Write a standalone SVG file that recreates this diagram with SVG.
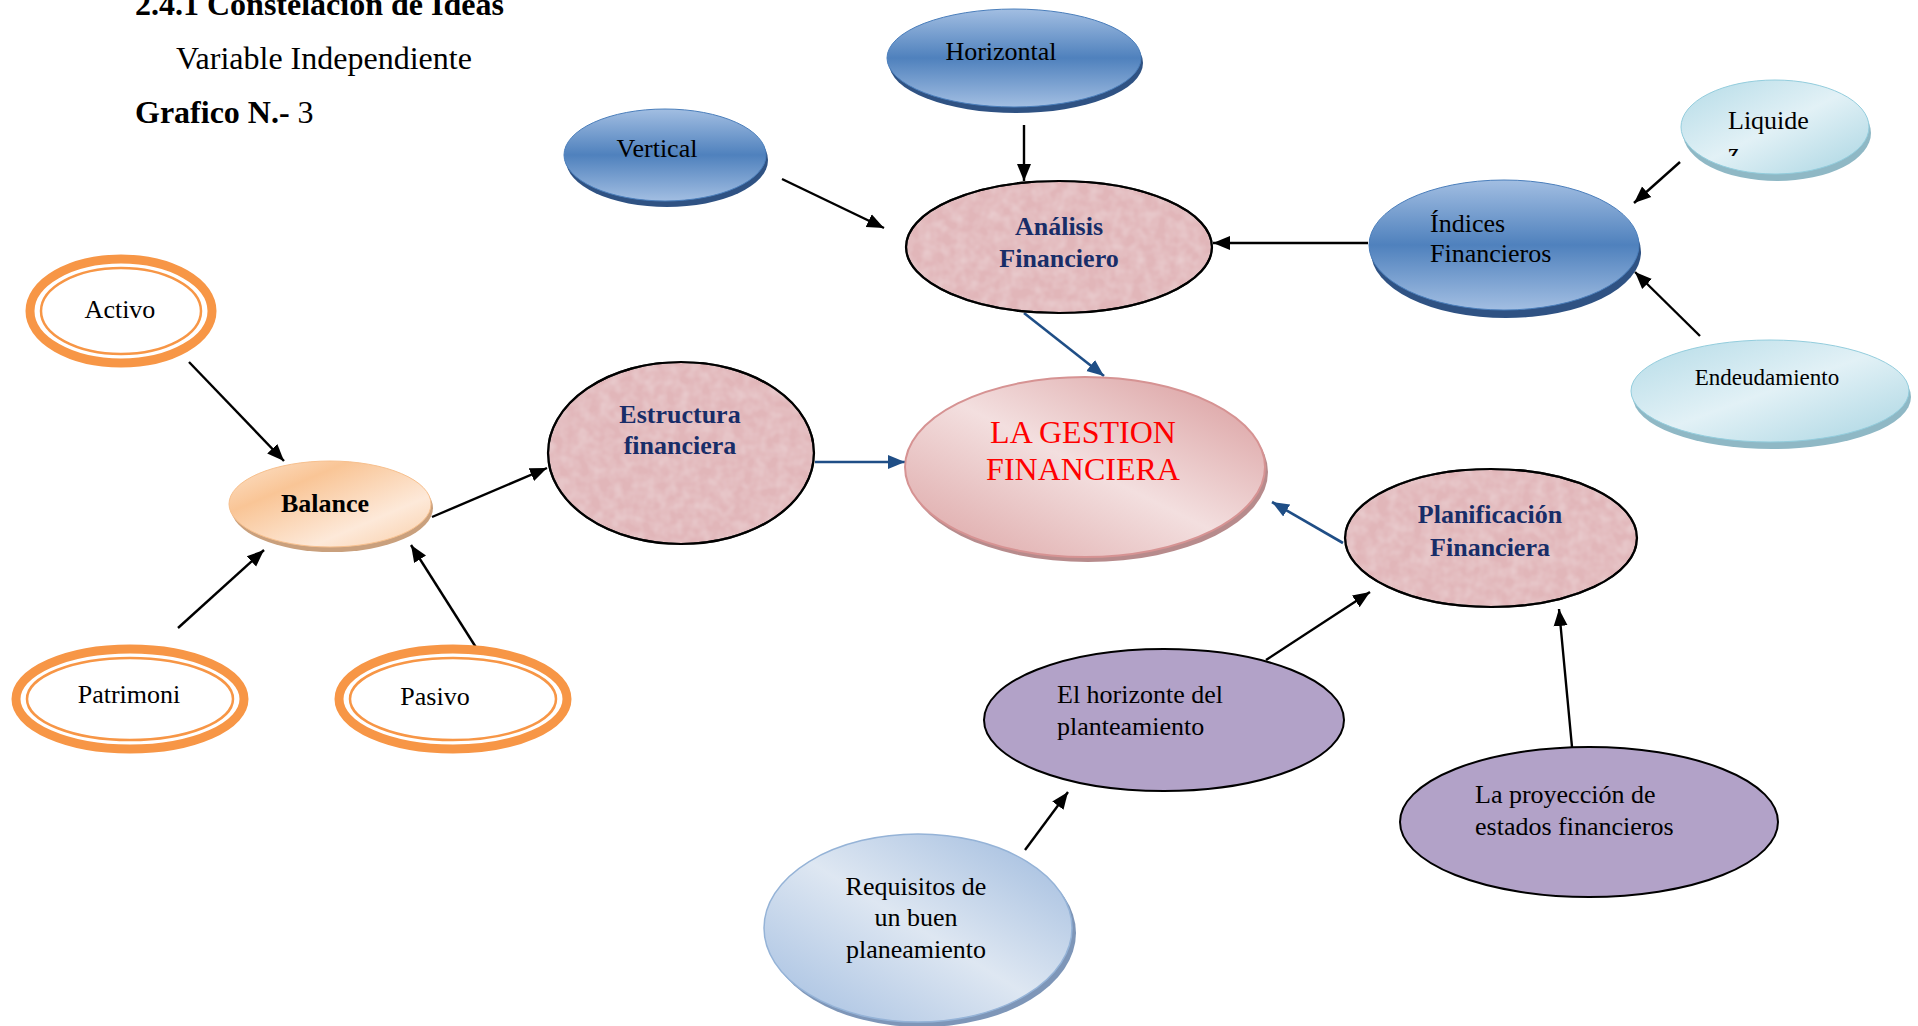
<svg xmlns="http://www.w3.org/2000/svg" width="1918" height="1026" viewBox="0 0 1918 1026">
<style>
text{font-family:"Liberation Serif","Times New Roman",serif;fill:#000;}
.t{font-size:26px;}
.b{font-size:26px;font-weight:bold;fill:#182d68;}
.h{font-size:32px;}
.c{text-anchor:middle;}
.ring{fill:#fff;stroke:#f79646;stroke-width:9;}
.ring2{fill:none;stroke:#f79646;stroke-width:2.5;}
.pink{fill:#e1b6b9;stroke:#000;stroke-width:2.2;}
.purple{fill:#b2a2c8;stroke:#000;stroke-width:2;}
.blk{stroke:#000;stroke-width:2.4;fill:none;marker-end:url(#ah);}
.blu{stroke:#1f4e86;stroke-width:2.6;fill:none;marker-end:url(#ahb);}
</style>
<defs>
<marker id="ah" markerUnits="userSpaceOnUse" markerWidth="18" markerHeight="16" refX="17" refY="8" orient="auto"><path d="M0,1 L17,8 L0,15 z" fill="#000"/></marker>
<marker id="ahb" markerUnits="userSpaceOnUse" markerWidth="18" markerHeight="16" refX="17" refY="8" orient="auto"><path d="M0,1 L17,8 L0,15 z" fill="#1f4e86"/></marker>
<linearGradient id="gBlue" x1="0" y1="0" x2="0" y2="1">
<stop offset="0" stop-color="#a2bee2"/><stop offset="0.5" stop-color="#4f81bd"/><stop offset="1" stop-color="#a2bee2"/>
</linearGradient>
<linearGradient id="gCyan" x1="0" y1="0" x2="1" y2="1">
<stop offset="0" stop-color="#b4dbe7"/><stop offset="0.5" stop-color="#e2f1f6"/><stop offset="1" stop-color="#a9d5e2"/>
</linearGradient>
<linearGradient id="gPeach" x1="0" y1="0" x2="1" y2="1">
<stop offset="0" stop-color="#fde3cc"/><stop offset="0.3" stop-color="#f9c596"/><stop offset="0.7" stop-color="#fde9d9"/><stop offset="1" stop-color="#f9cda6"/>
</linearGradient>
<linearGradient id="gGest" x1="1" y1="0" x2="0" y2="1">
<stop offset="0" stop-color="#d8999a"/><stop offset="0.5" stop-color="#f3dfdf"/><stop offset="1" stop-color="#dca3a3"/>
</linearGradient>
<linearGradient id="gReq" x1="1" y1="0" x2="0" y2="1">
<stop offset="0" stop-color="#9db9dd"/><stop offset="0.5" stop-color="#dee7f2"/><stop offset="1" stop-color="#a2bde0"/>
</linearGradient>
<filter id="tex" x="0" y="0" width="1" height="1">
<feTurbulence type="fractalNoise" baseFrequency="0.09" numOctaves="2" seed="3" result="n"/>
<feColorMatrix in="n" type="matrix" values="0 0 0 0 1  0 0 0 0 1  0 0 0 0 1  0.4 0 0 0 -0.12" result="w"/>
<feComposite in="w" in2="SourceGraphic" operator="in" result="wc"/>
<feMerge><feMergeNode in="SourceGraphic"/><feMergeNode in="wc"/></feMerge>
</filter>
<clipPath id="clipLiq"><rect x="1690" y="90" width="160" height="66"/></clipPath>
</defs>

<g id="header">
<text class="h" x="135" y="15" font-weight="bold">2.4.1 Constelación de Ideas</text>
<text class="h" x="176" y="69">Variable Independiente</text>
<text class="h" x="135" y="123"><tspan font-weight="bold">Grafico N.-</tspan> 3</text>
</g>

<g id="connectors">
<line class="blk" x1="1024" y1="125" x2="1024" y2="181"/>
<line class="blk" x1="782" y1="179" x2="884" y2="228"/>
<line class="blk" x1="1368" y1="243" x2="1213" y2="243"/>
<line class="blk" x1="1680" y1="162" x2="1634" y2="203"/>
<line class="blk" x1="1700" y1="336" x2="1635" y2="272"/>
<line class="blu" x1="1024" y1="313" x2="1104" y2="376"/>
<line class="blk" x1="189" y1="362" x2="284" y2="461"/>
<line class="blk" x1="178" y1="628" x2="264" y2="550"/>
<line class="blk" x1="477" y1="649" x2="411" y2="545"/>
<line class="blk" x1="432" y1="517" x2="547" y2="468"/>
<line class="blu" x1="815" y1="462" x2="905" y2="462"/>
<line class="blu" x1="1343" y1="543" x2="1272" y2="502"/>
<line class="blk" x1="1266" y1="660" x2="1370" y2="592"/>
<line class="blk" x1="1572" y1="747" x2="1559" y2="609"/>
<line class="blk" x1="1025" y1="850" x2="1068" y2="792"/>
</g>

<g id="horizontal">
<ellipse cx="1016" cy="63" rx="127" ry="50" fill="#2f5283"/>
<ellipse cx="1014" cy="58" rx="127" ry="49" fill="url(#gBlue)" stroke="#4a7ebb" stroke-width="1"/>
<text class="t c" x="1001" y="60">Horizontal</text>
</g>
<g id="vertical">
<ellipse cx="667" cy="160" rx="101" ry="47" fill="#2f5283"/>
<ellipse cx="665" cy="155" rx="101" ry="46" fill="url(#gBlue)" stroke="#4a7ebb" stroke-width="1"/>
<text class="t c" x="657" y="157">Vertical</text>
</g>
<g id="analisis">
<ellipse class="pink" cx="1059" cy="247" rx="153" ry="66" filter="url(#tex)"/>
<ellipse cx="1059" cy="247" rx="153" ry="66" fill="none" stroke="#000" stroke-width="2.2"/>
<text class="b c" x="1059" y="235">Análisis<tspan x="1059" dy="32">Financiero</tspan></text>
</g>
<g id="indices">
<ellipse cx="1506" cy="252" rx="135" ry="66" fill="#2f5283"/>
<ellipse cx="1504" cy="245" rx="135" ry="65" fill="url(#gBlue)" stroke="#4a7ebb" stroke-width="1"/>
<text class="t" x="1430" y="232">Índices<tspan x="1430" dy="30">Financieros</tspan></text>
</g>
<g id="liquidez">
<ellipse cx="1777" cy="133" rx="94" ry="48" fill="#8fb8c5"/>
<ellipse cx="1775" cy="127" rx="94" ry="47" fill="url(#gCyan)" stroke="#93cddd" stroke-width="1"/>
<text class="t" x="1728" y="129" clip-path="url(#clipLiq)">Liquide<tspan x="1728" dy="32">z</tspan></text>
</g>
<g id="endeudamiento">
<ellipse cx="1772" cy="397" rx="139" ry="52" fill="#8fb8c5"/>
<ellipse cx="1770" cy="391" rx="139" ry="51" fill="url(#gCyan)" stroke="#93cddd" stroke-width="1"/>
<text class="c" x="1767" y="385" font-size="23">Endeudamiento</text>
</g>

<g id="activo">
<ellipse class="ring" cx="121" cy="311" rx="91" ry="52"/>
<ellipse class="ring2" cx="121" cy="311" rx="80" ry="43"/>
<text class="t c" x="120" y="318">Activo</text>
</g>
<g id="patrimonio">
<ellipse class="ring" cx="130" cy="699" rx="114" ry="50"/>
<ellipse class="ring2" cx="130" cy="699" rx="103" ry="41"/>
<text class="t c" x="129" y="703">Patrimoni</text>
</g>
<g id="pasivo">
<ellipse class="ring" cx="453" cy="699" rx="114" ry="50"/>
<ellipse class="ring2" cx="453" cy="699" rx="103" ry="41"/>
<text class="t c" x="435" y="705">Pasivo</text>
</g>
<g id="balance">
<ellipse cx="332" cy="508" rx="101" ry="44" fill="#c9a07d"/>
<ellipse cx="330" cy="504" rx="101" ry="43" fill="url(#gPeach)" stroke="#f7c08e" stroke-width="1"/>
<text class="c" x="325" y="512" font-size="26" font-weight="bold">Balance</text>
</g>
<g id="estructura">
<ellipse class="pink" cx="681" cy="453" rx="133" ry="91" filter="url(#tex)"/>
<ellipse cx="681" cy="453" rx="133" ry="91" fill="none" stroke="#000" stroke-width="2.2"/>
<text class="b c" x="680" y="423">Estructura<tspan x="680" dy="31">financiera</tspan></text>
</g>
<g id="gestion">
<ellipse cx="1088" cy="472" rx="180" ry="90" fill="#b78b8c"/>
<ellipse cx="1085" cy="467" rx="180" ry="90" fill="url(#gGest)" stroke="#d69393" stroke-width="2"/>
<text class="c" x="1083" y="443" font-size="32" style="fill:#ff0000">LA GESTION<tspan x="1083" dy="37">FINANCIERA</tspan></text>
</g>
<g id="planificacion">
<ellipse class="pink" cx="1491" cy="538" rx="146" ry="69" filter="url(#tex)"/>
<ellipse cx="1491" cy="538" rx="146" ry="69" fill="none" stroke="#000" stroke-width="2.2"/>
<text class="b c" x="1490" y="523">Planificación<tspan x="1490" dy="33">Financiera</tspan></text>
</g>
<g id="horizonte">
<ellipse class="purple" cx="1164" cy="720" rx="180" ry="71"/>
<text class="t" x="1057" y="703">El horizonte del<tspan x="1057" dy="32">planteamiento</tspan></text>
</g>
<g id="proyeccion">
<ellipse class="purple" cx="1589" cy="822" rx="189" ry="75"/>
<text class="t" x="1475" y="803">La proyección de<tspan x="1475" dy="32">estados financieros</tspan></text>
</g>
<g id="requisitos">
<ellipse cx="922" cy="933" rx="154" ry="94" fill="#7e96b8"/>
<ellipse cx="918" cy="928" rx="154" ry="94" fill="url(#gReq)" stroke="#95b3d7" stroke-width="1.5"/>
<text class="t c" x="916" y="895">Requisitos de<tspan x="916" dy="31">un buen</tspan><tspan x="916" dy="32">planeamiento</tspan></text>
</g>
</svg>
